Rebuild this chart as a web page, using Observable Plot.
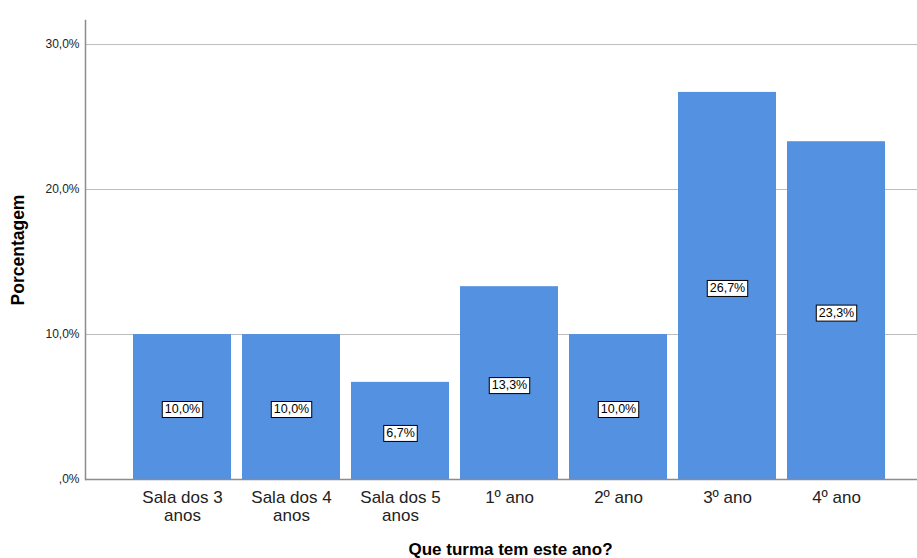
<!DOCTYPE html>
<html>
<head>
<meta charset="utf-8">
<script src="https://cdn.jsdelivr.net/npm/d3@7"></script>
<script src="https://cdn.jsdelivr.net/npm/@observablehq/plot@0.6"></script>
<style>
  html, body { margin: 0; padding: 0; background: #fff; }
  #chart { width: 917px; height: 558px; }
  svg { font-family: "Liberation Sans", Arial, sans-serif; }
</style>
</head>
<body>
<div id="chart"></div>
<script>
const categories = ["Sala dos 3\nanos", "Sala dos 4\nanos", "Sala dos 5\nanos", "1º ano", "2º ano", "3º ano", "4º ano"];
const values = [10.0, 10.0, 6.7, 13.3, 10.0, 26.7, 23.3];
const yTicks = [0, 10, 20, 30];
const gridValues = [10, 20, 30];

const data = categories.map((c, i) => ({cat: c, v: values[i]}));
const fmtPct = v => v === 0 ? ",0%" : v.toFixed(1).replace(".", ",") + "%";
const LABEL_FILL = "#010101";

const plot = Plot.plot({
  width: 917,
  height: 558,
  marginLeft: 85,
  marginRight: 0,
  marginTop: 20,
  marginBottom: 79,
  style: {fontFamily: '"Liberation Sans", Arial, sans-serif', background: "#fff"},
  x: {domain: categories, padding: 0.1, insetLeft: 37, insetRight: 20},
  y: {domain: [0, 31.66]},
  marks: [
    Plot.ruleY(gridValues, {stroke: "#bcbcbc", strokeWidth: 1}),
    Plot.barY(data, {x: "cat", y: "v", fill: "#5591e1"}),
    Plot.frame({anchor: "left", stroke: "#8c8c8c", strokeWidth: 1.5}),
    Plot.ruleY([0], {stroke: "#8c8c8c", strokeWidth: 1.5}),
    Plot.axisY(yTicks, {tickSize: 0, tickPadding: 6, tickFormat: fmtPct, fontSize: 12, fill: "#222", label: null}),
    Plot.axisX({tickSize: 0, tickPadding: 10, fontSize: 17, fill: "#222", lineHeight: 1.1, label: null}),
    Plot.text(data, {x: "cat", y: d => d.v / 2, dy: 2, text: d => fmtPct(d.v), fontSize: 12.5, fill: LABEL_FILL}),
    Plot.text(["Porcentagem"], {frameAnchor: "left", textAnchor: "middle", rotate: -90, dx: -67, fontSize: 17.5, fontWeight: "bold", fill: "#000"}),
    Plot.text(["Que turma tem este ano?"], {frameAnchor: "bottom", dy: 75, dx: 9, fontSize: 17, fontWeight: "bold", fill: "#000"})
  ]
});
document.getElementById("chart").appendChild(plot);

// white boxes with black border behind the value labels
plot.querySelectorAll("g").forEach(g => {
  if ((g.getAttribute("fill") || "").toLowerCase() !== LABEL_FILL) return;
  g.querySelectorAll("text").forEach(t => {
    const b = t.getBBox();
    const r = document.createElementNS("http://www.w3.org/2000/svg", "rect");
    r.setAttribute("x", b.x - 2.5);
    r.setAttribute("y", b.y - 0.5);
    r.setAttribute("width", b.width + 5);
    r.setAttribute("height", b.height + 2);
    r.setAttribute("fill", "#fff");
    r.setAttribute("stroke", "#000");
    r.setAttribute("stroke-width", "1");
    if (t.getAttribute("transform")) r.setAttribute("transform", t.getAttribute("transform"));
    g.insertBefore(r, t);
  });
});
</script>
</body>
</html>
